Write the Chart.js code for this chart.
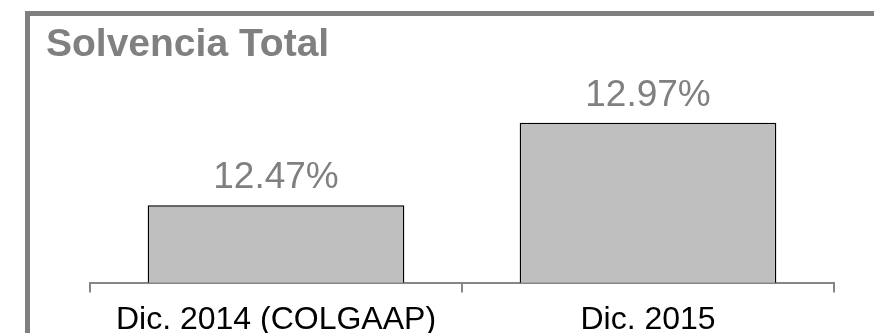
<!DOCTYPE html>
<html>
<head>
<meta charset="utf-8">
<title>Solvencia Total</title>
<script src="https://cdn.jsdelivr.net/npm/chart.js@4"></script>
<style>
  html, body { margin: 0; padding: 0; overflow: hidden; background: #ffffff; width: 874px; height: 333px; }
  #wrap { position: relative; width: 874px; height: 333px; overflow: hidden; }
  #frame {
    position: absolute; left: 25px; top: 11px; width: 860px; height: 340px;
    border-top: 5px solid #7f7f7f; border-left: 5px solid #7f7f7f;
    box-sizing: border-box; pointer-events: none;
  }
  /* the drawing runs a few pixels past the bottom edge, so the category labels sit low */
  #box { position: absolute; left: 0; top: 0; width: 874px; height: 339px; }
</style>
</head>
<body>
<div id="wrap">
  <div id="box"><canvas id="chart"></canvas></div>
  <div id="frame"></div>
</div>
<script>
// Total solvency ratio per reporting date (%)
const categories = ['Dic. 2014 (COLGAAP)', 'Dic. 2015'];
const solvencia = [12.47, 12.97];
const chartTitle = 'Solvencia Total';

const FONT = "'Liberation Sans', Arial, Helvetica, sans-serif";

// Writes each bar's value as a percentage just above it
const valueLabels = {
  id: 'valueLabels',
  afterDatasetsDraw(chart) {
    const ctx = chart.ctx;
    const meta = chart.getDatasetMeta(0);
    const values = chart.data.datasets[0].data;
    ctx.save();
    ctx.font = '37px ' + FONT;
    ctx.fillStyle = '#808080';
    ctx.textAlign = 'center';
    ctx.textBaseline = 'alphabetic';
    meta.data.forEach((bar, i) => {
      ctx.fillText(values[i].toFixed(2) + '%', bar.x, bar.y - 17);
    });
    ctx.restore();
  }
};

new Chart(document.getElementById('chart'), {
  type: 'bar',
  data: {
    labels: categories,
    datasets: [{
      data: solvencia,
      backgroundColor: '#bfbfbf',
      borderColor: '#000000',
      borderWidth: 1.5,
      categoryPercentage: 1.0,
      barPercentage: 0.69
    }]
  },
  options: {
    responsive: true,
    maintainAspectRatio: false,
    devicePixelRatio: 1,
    animation: false,
    layout: { padding: { left: 46, right: 40, top: 0, bottom: 0 } },
    plugins: {
      legend: { display: false },
      tooltip: { enabled: false },
      title: {
        display: true,
        text: chartTitle,
        align: 'start',
        color: '#808080',
        font: { family: FONT, size: 39, weight: 'bold', lineHeight: 1.2 },
        padding: { top: 22, bottom: 16.2 }
      }
    },
    scales: {
      x: {
        offset: true,
        grid: {
          display: true,
          offset: true,
          drawOnChartArea: false,
          drawTicks: true,
          tickLength: 10,
          color: '#868686',
          lineWidth: 2
        },
        border: { display: true, color: '#868686', width: 2 },
        ticks: {
          color: '#000000',
          padding: 8,
          maxRotation: 0,
          font: { family: FONT, size: 32, lineHeight: 1.2 }
        },
        afterFit(scale) { scale.height = 56.4; }
      },
      y: {
        min: 12,
        max: 13.2,
        display: true,
        grid: { display: false },
        border: { display: false },
        ticks: { display: false },
        afterFit(scale) { scale.width = 44; }
      }
    }
  },
  plugins: [valueLabels]
});
</script>
</body>
</html>
